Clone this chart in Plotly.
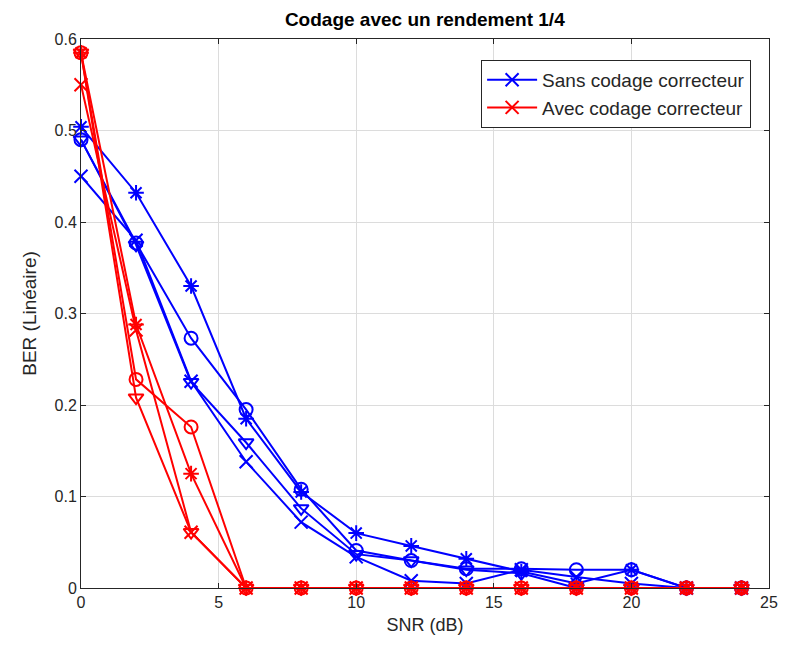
import plotly.graph_objects as go

snr = [0, 2, 4, 6, 8, 10, 12, 14, 16, 18, 20, 22, 24]

# Sans codage correcteur (blue)
ber_sans_x = [0.450, 0.380, 0.226, 0.138, 0.072, 0.034, 0.008, 0.005, 0.020, 0.012, 0.005, 0.0, 0.0]
ber_sans_star = [0.504, 0.432, 0.330, 0.185, 0.105, 0.060, 0.046, 0.032, 0.018, 0.005, 0.020, 0.0, 0.0]
ber_sans_o = [0.490, 0.377, 0.273, 0.195, 0.108, 0.041, 0.030, 0.021, 0.021, 0.020, 0.020, 0.0, 0.0]
ber_sans_v = [0.490, 0.375, 0.225, 0.159, 0.087, 0.037, 0.030, 0.020, 0.016, 0.0, 0.0, 0.0, 0.0]

# Avec codage correcteur (red)
ber_avec_x = [0.550, 0.282, 0.061, 0.0, 0.0, 0.0, 0.0, 0.0, 0.0, 0.0, 0.0, 0.0, 0.0]
ber_avec_star = [0.585, 0.288, 0.125, 0.0, 0.0, 0.0, 0.0, 0.0, 0.0, 0.0, 0.0, 0.0, 0.0]
ber_avec_o = [0.585, 0.228, 0.176, 0.0, 0.0, 0.0, 0.0, 0.0, 0.0, 0.0, 0.0, 0.0, 0.0]
ber_avec_v = [0.585, 0.208, 0.061, 0.0, 0.0, 0.0, 0.0, 0.0, 0.0, 0.0, 0.0, 0.0, 0.0]

BLUE = "#0000FF"
RED = "#FF0000"
FONT = "Liberation Sans, Arial, Helvetica"

series = [
    ("Sans codage correcteur", ber_sans_x, BLUE, "x-thin", True),
    ("Sans codage correcteur", ber_sans_star, BLUE, "asterisk", False),
    ("Sans codage correcteur", ber_sans_o, BLUE, "circle-open", False),
    ("Sans codage correcteur", ber_sans_v, BLUE, "triangle-down-open", False),
    ("Avec codage correcteur", ber_avec_x, RED, "x-thin", True),
    ("Avec codage correcteur", ber_avec_star, RED, "asterisk", False),
    ("Avec codage correcteur", ber_avec_o, RED, "circle-open", False),
    ("Avec codage correcteur", ber_avec_v, RED, "triangle-down-open", False),
]

fig = go.Figure()
for name, y, col, sym, leg in series:
    fig.add_trace(go.Scatter(
        x=snr, y=y, mode="lines+markers", name=name, showlegend=leg,
        line=dict(color=col, width=2),
        marker=dict(symbol=sym, size=13, color=col, line=dict(color=col, width=2)),
        legendgroup=name, cliponaxis=False,
    ))

axis_common = dict(
    showgrid=True, gridcolor="#DCDCDC", gridwidth=1,
    zeroline=False, showline=True, linecolor="#262626", linewidth=1,
    mirror="ticks", ticks="inside", ticklen=5, tickcolor="#262626",
    tickfont=dict(family=FONT, size=16, color="#262626"),
)

fig.update_layout(
    width=782, height=654,
    paper_bgcolor="white", plot_bgcolor="white",
    margin=dict(l=73, r=18, t=31, b=74),
    title=dict(text="<b>Codage avec un rendement 1/4</b>", x=0.533, xanchor="center",
               y=0.982, yanchor="middle",
               font=dict(family=FONT, size=19, color="black")),
    xaxis=dict(range=[0, 25], tickvals=[0, 5, 10, 15, 20, 25],
               title=dict(text="SNR (dB)", font=dict(family=FONT, size=18, color="#262626"), standoff=8),
               **axis_common),
    yaxis=dict(range=[0, 0.6], tickvals=[0, 0.1, 0.2, 0.3, 0.4, 0.5, 0.6],
               ticktext=["0", "0.1", "0.2", "0.3", "0.4", "0.5", "0.6"],
               title=dict(text="BER (Linéaire)", font=dict(family=FONT, size=19, color="#262626"), standoff=12),
               **axis_common),
    legend=dict(x=0.974, xanchor="right", y=0.962, yanchor="top",
                bgcolor="white", bordercolor="#262626", borderwidth=1,
                font=dict(family=FONT, size=19, color="#262626"),
                itemwidth=50, tracegroupgap=0),
    showlegend=True,
)

fig.write_html("out.html")
